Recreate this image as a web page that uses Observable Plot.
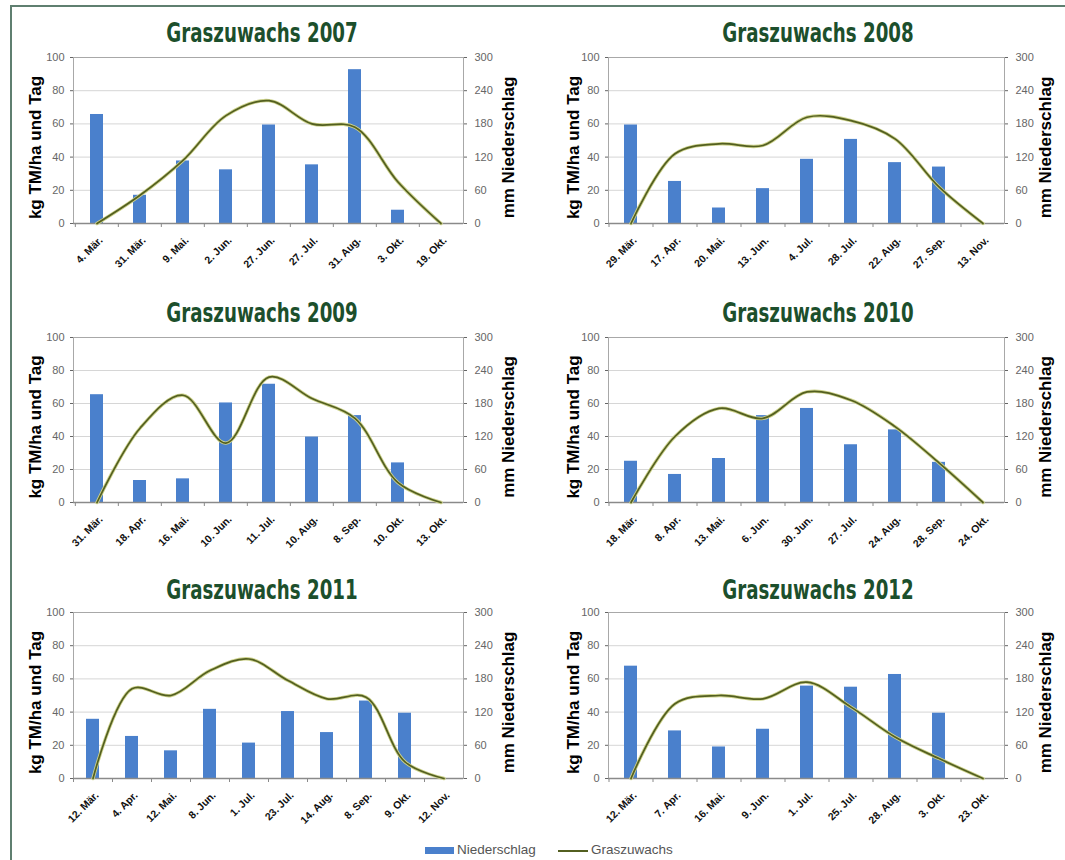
<!DOCTYPE html>
<html><head><meta charset="utf-8">
<script src="https://cdn.jsdelivr.net/npm/d3@7"></script>
<script src="https://cdn.jsdelivr.net/npm/@observablehq/plot@0.6"></script>
<style>
body{margin:0;background:#fff;}
#page{position:relative;width:1065px;height:860px;overflow:hidden;font-family:"Liberation Sans",Arial,sans-serif;background:#fff;}
#frame{position:absolute;left:10px;top:5px;width:1100px;height:900px;border-left:2px solid #5f7f70;border-top:2px solid #5f7f70;}
.title{position:absolute;width:300px;text-align:center;font-family:"Liberation Sans Narrow","DejaVu Sans Condensed",sans-serif;font-weight:bold;font-size:27px;line-height:26px;color:#1c4f2c;white-space:nowrap;transform:scaleX(0.75);transform-origin:50% 50%;}
.panel{position:absolute;}
.legend{position:absolute;top:842px;left:0;width:1065px;height:18px;font-size:13.5px;color:#555;}
.legend span{position:absolute;}
</style></head><body><div id="page"><div id="frame"></div></div>
<script>
// ---- data ----
const years = [2007, 2008, 2009, 2010, 2011, 2012];
const cats2007 = ["4. Mär.", "31. Mär.", "9. Mai.", "2. Jun.", "27. Jun.", "27. Jul.", "31. Aug.", "3. Okt.", "19. Okt."];
const cats2008 = ["29. Mär.", "17. Apr.", "20. Mai.", "13. Jun.", "4. Jul.", "28. Jul.", "22. Aug.", "27. Sep.", "13. Nov."];
const cats2009 = ["31. Mär.", "18. Apr.", "16. Mai.", "10. Jun.", "11. Jul.", "10. Aug.", "8. Sep.", "10. Okt.", "13. Okt."];
const cats2010 = ["18. Mär.", "8. Apr.", "13. Mai.", "6. Jun.", "30. Jun.", "27. Jul.", "24. Aug.", "28. Sep.", "24. Okt."];
const cats2011 = ["12. Mär.", "4. Apr.", "12. Mai.", "8. Jun.", "1. Jul.", "23. Jul.", "14. Aug.", "8. Sep.", "9. Okt.", "12. Nov."];
const cats2012 = ["12. Mär.", "7. Apr.", "16. Mai.", "9. Jun.", "1. Jul.", "25. Jul.", "28. Aug.", "3. Okt.", "23. Okt."];

// Niederschlag (mm, right axis)
const rain2007 = [197, 51, 113, 97, 178, 106, 278, 24, null];
const rain2008 = [178, 76, 28, 63, 116, 152, 110, 102, null];
const rain2009 = [196, 40, 43, 181, 215, 119, 158, 72, null];
const rain2010 = [75, 51, 80, 158, 171, 105, 132, 73, null];
const rain2011 = [107, 76, 50, 125, 64, 121, 83, 140, 118, null];
const rain2012 = [203, 86, 57, 89, 167, 165, 188, 118, null];

// Graszuwachs (kg TM/ha und Tag, left axis)
const grow2007 = [0, 17, 38, 65, 74, 60, 58, 25, 0];
const grow2008 = [0, 42, 48, 47, 64, 62, 51, 22, 0];
const grow2009 = [0, 45, 65, 36, 76, 63, 51, 12, 0];
const grow2010 = [0, 40, 57, 51, 67, 62, 46, 24, 0];
const grow2011 = [0, 54, 50, 65, 72, 59, 48, 49, 10, 0];
const grow2012 = [0, 45, 50, 48, 58, 43, 25, 12, 0];

const leftTicks = [0, 20, 40, 60, 80, 100];
const rightTicks = [0, 60, 120, 180, 240, 300];
const labelLeft = "kg TM/ha und Tag";
const labelRight = "mm Niederschlag";
const seriesNames = ["Niederschlag", "Graszuwachs"];
const mmPerUnit = 300 / 100;

// ---- layout ----
const rainColor = "#4a80cc";
const lineColor = "#535f20";
const page = document.getElementById("page");
const colL = {svgLeft: 0, svgRight: 530, plotLeft: 73, plotRight: 463, lblL: -38, lblR: 45, titleX: 262};
const colR = {svgLeft: 530, svgRight: 1065, plotLeft: 608, plotRight: 1004, lblL: -35, lblR: 41, titleX: 818};
const rowsPos = [
  {plotTop: 57, plotBottom: 223, titleBase: 42},
  {plotTop: 337, plotBottom: 502, titleBase: 322},
  {plotTop: 612, plotBottom: 778, titleBase: 599}
];
const panels = [
  [cats2007, rain2007, grow2007, colL, rowsPos[0]],
  [cats2008, rain2008, grow2008, colR, rowsPos[0]],
  [cats2009, rain2009, grow2009, colL, rowsPos[1]],
  [cats2010, rain2010, grow2010, colR, rowsPos[1]],
  [cats2011, rain2011, grow2011, colL, rowsPos[2]],
  [cats2012, rain2012, grow2012, colR, rowsPos[2]]
];

panels.forEach(([cats, rain, grow, col, row], k) => {
  const rows = cats.map((c, i) => ({cat: c, rain: rain[i], grow: grow[i]}));
  const width = col.svgRight - col.svgLeft;
  const height = 245;
  const svgTop = row.plotTop - 12;
  const mL = col.plotLeft - col.svgLeft, mR = col.svgRight - col.plotRight;
  const mT = 12, mB = height - (row.plotBottom - svgTop);
  const step = (col.plotRight - col.plotLeft) / cats.length;
  const pin = 1 - 13 / step;
  const chart = Plot.plot({
    width, height, marginLeft: mL, marginRight: mR, marginTop: mT, marginBottom: mB,
    style: {fontFamily: '"Liberation Sans", Arial, sans-serif', background: "transparent", overflow: "visible"},
    x: {domain: cats, paddingInner: pin, paddingOuter: pin / 2},
    y: {domain: [0, 100]},
    marks: [
      Plot.gridY(leftTicks.slice(1, -1), {stroke: "#d6d6d6", strokeOpacity: 1}),
      Plot.frame({stroke: "#a8a8a8"}),
      Plot.barY(rows.filter(d => d.rain != null), {x: "cat", y: d => d.rain / mmPerUnit, fill: rainColor}),
      Plot.ruleY([0], {stroke: "#8a8a8a", strokeWidth: 1.5}),
      Plot.axisX({ticks: cats, tickSize: 4, tickFormat: () => "", dx: -step / 2, stroke: "#8a8a8a", label: null}),
      Plot.axisX({tickSize: 0, tickRotate: -45, tickPadding: 15, dx: 4, fontSize: 10.5, fontWeight: "bold", fill: "#111", label: null}),
      Plot.axisY({ticks: leftTicks, tickSize: 3, tickPadding: 6, fontSize: 11, color: "#666", label: null}),
      Plot.axisY({anchor: "right", ticks: leftTicks, tickFormat: d => rightTicks[leftTicks.indexOf(d)], tickSize: 3, tickPadding: 8, fontSize: 11, color: "#666", label: null}),
      Plot.line(rows, {x: "cat", y: "grow", curve: "catmull-rom", stroke: "#cdd28c", strokeWidth: 3.4}),
      Plot.line(rows, {x: "cat", y: "grow", curve: "catmull-rom", stroke: lineColor, strokeWidth: 1.7}),
      Plot.text([labelLeft], {text: d => d, frameAnchor: "left", textAnchor: "middle", rotate: -90, dx: col.lblL, dy: 7, fontSize: 17, fontWeight: "bold", fill: "#000"}),
      Plot.text([labelRight], {text: d => d, frameAnchor: "right", textAnchor: "middle", rotate: -90, dx: col.lblR, dy: 7, fontSize: 17, fontWeight: "bold", fill: "#000"})
    ]
  });
  chart.classList.add("panel");
  chart.style.left = col.svgLeft + "px";
  chart.style.top = svgTop + "px";
  page.appendChild(chart);

  const t = document.createElement("div");
  t.className = "title";
  t.textContent = "Graszuwachs " + years[k];
  t.style.left = (col.titleX - 150) + "px";
  t.style.top = (row.titleBase - 22) + "px";
  page.appendChild(t);
});

// legend
const leg = document.createElement("div");
leg.className = "legend";
leg.innerHTML =
  `<span style="left:425px;top:5px;width:29px;height:7px;background:${rainColor}"></span>` +
  `<span style="left:457px;top:0px;">${seriesNames[0]}</span>` +
  `<span style="left:558px;top:8px;width:30px;height:2px;background:${lineColor}"></span>` +
  `<span style="left:591px;top:0px;">${seriesNames[1]}</span>`;
page.appendChild(leg);
</script>
</body></html>
